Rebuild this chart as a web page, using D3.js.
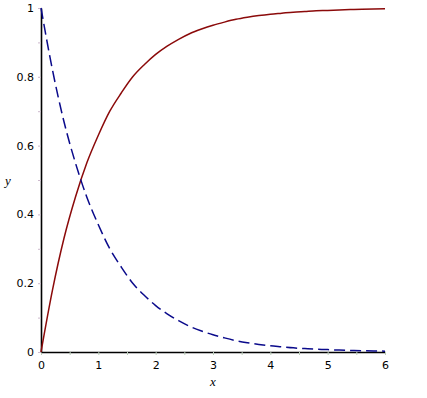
<!DOCTYPE html>
<html>
<head>
<meta charset="utf-8">
<script src="https://cdn.jsdelivr.net/npm/d3@7"></script>
<style>
  body { margin: 0; background: #fff; }
  svg { display: block; }
</style>
</head>
<body>
<div id="chart"></div>
<script>
// values
var xValues = [0, 0.2, 0.4, 0.6, 0.8, 1.0, 1.2, 1.4, 1.6, 1.8, 2.0, 2.2, 2.4, 2.6, 2.8, 3.0,
               3.2, 3.4, 3.6, 3.8, 4.0, 4.2, 4.4, 4.6, 4.8, 5.0, 5.2, 5.4, 5.6, 5.8, 6.0];
var redValues = [0, 0.18, 0.33, 0.45, 0.55, 0.63, 0.70, 0.753, 0.80, 0.835, 0.865, 0.889, 0.909, 0.926, 0.939, 0.95,
                 0.959, 0.967, 0.973, 0.978, 0.982, 0.985, 0.988, 0.99, 0.992, 0.993, 0.9945, 0.9955, 0.9963, 0.997, 0.9975];
var blueValues = [1, 0.82, 0.67, 0.55, 0.45, 0.37, 0.30, 0.247, 0.20, 0.165, 0.135, 0.111, 0.091, 0.074, 0.061, 0.05,
                  0.041, 0.033, 0.027, 0.022, 0.018, 0.015, 0.012, 0.01, 0.008, 0.007, 0.0055, 0.0045, 0.0037, 0.003, 0.0025];
var xTickLabels = [0, 1, 2, 3, 4, 5, 6];
var yTickLabels = [0, 0.2, 0.4, 0.6, 0.8, 1];

var width = 427, height = 398;
var margin = { top: 8, right: 42, bottom: 46, left: 41 };

var xScale = d3.scaleLinear().domain([0, 6]).range([margin.left, width - margin.right]);
var yScale = d3.scaleLinear().domain([0, 1]).range([height - margin.bottom, margin.top]);

var svg = d3.select("#chart").append("svg")
    .attr("width", width)
    .attr("height", height);

// minor ticks
var xTicks = d3.range(0, 6.01, 0.5);
var yTicks = d3.range(0, 1.001, 0.1);

var xAxis = svg.append("g")
    .attr("transform", "translate(0," + yScale(0) + ")")
    .call(d3.axisBottom(xScale).tickValues(xTicks).tickSize(3).tickSizeOuter(0)
        .tickFormat(d => xTickLabels.indexOf(d) >= 0 ? d : ""));
xAxis.select(".domain").attr("stroke", "#000").attr("stroke-width", 1.6);
xAxis.selectAll(".tick line").attr("stroke", "#b9cdb9");
xAxis.selectAll(".tick text")
    .attr("font-family", "DejaVu Sans, sans-serif").attr("font-size", 11).attr("fill", "#000")
    .attr("dy", "1em");

var yAxis = svg.append("g")
    .attr("transform", "translate(" + xScale(0) + ",0)")
    .call(d3.axisLeft(yScale).tickValues(yTicks).tickSize(3).tickSizeOuter(0)
        .tickFormat(d => {
            var r = Math.round(d * 10) / 10;
            return yTickLabels.indexOf(r) >= 0 ? d3.format("~g")(r) : "";
        }));
yAxis.select(".domain").attr("stroke", "#000").attr("stroke-width", 1.6);
yAxis.selectAll(".tick line").attr("stroke", "#cdb9cd");
yAxis.selectAll(".tick text")
    .attr("font-family", "DejaVu Sans, sans-serif").attr("font-size", 11).attr("fill", "#000")
    .attr("x", -7);

// axis titles
svg.append("text")
    .attr("x", xScale(3)).attr("y", 386)
    .attr("text-anchor", "middle")
    .attr("font-family", "Liberation Serif, serif").attr("font-style", "italic").attr("font-size", 13)
    .text("x");
svg.append("text")
    .attr("x", 5).attr("y", 185)
    .attr("font-family", "Liberation Serif, serif").attr("font-style", "italic").attr("font-size", 13)
    .text("y");

var line = d3.line()
    .x(d => xScale(d[0]))
    .y(d => yScale(d[1]))
    .curve(d3.curveMonotoneX);

svg.append("path")
    .datum(xValues.map((x, i) => [x, redValues[i]]))
    .attr("d", line)
    .attr("fill", "none")
    .attr("stroke", "#8b0a0a")
    .attr("stroke-width", 1.5);

svg.append("path")
    .datum(xValues.map((x, i) => [x, blueValues[i]]))
    .attr("d", line)
    .attr("fill", "none")
    .attr("stroke", "#0a0a8b")
    .attr("stroke-width", 1.5)
    .style("stroke-dasharray", "11, 5");
</script>
</body>
</html>
